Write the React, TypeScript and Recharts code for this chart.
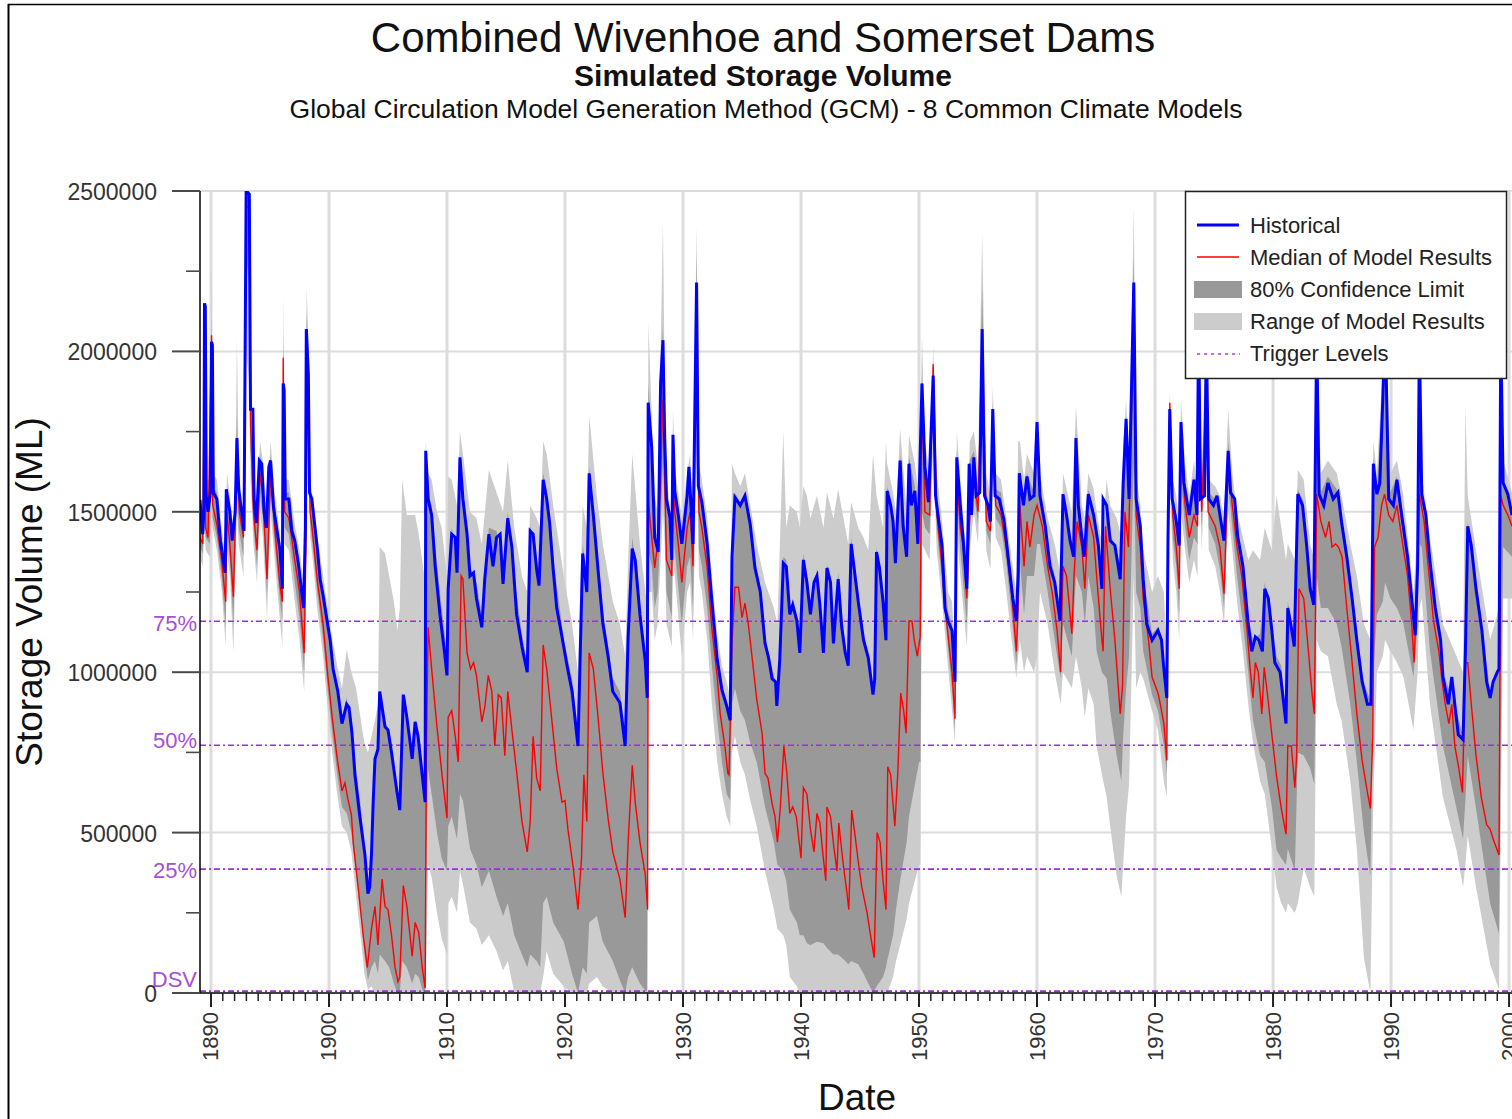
import React from 'react';
import { ComposedChart, Line, Area, XAxis, YAxis, CartesianGrid, ReferenceLine } from 'recharts';

const FONT = '"Liberation Sans", Arial, Helvetica, sans-serif';

// Historical combined storage volume: [year, ML]
const historical: [number, number][] = [
  [1889.07,1537000],[1889.3,1430000],[1889.4,1500000],[1889.45,2150000],[1889.52,2140000],[1889.6,1550000],[1889.75,1500000],[1889.95,1560000],[1890.05,2030000],[1890.12,2020000],
  [1890.2,1560000],[1890.5,1540000],[1890.8,1410000],[1891.2,1310000],[1891.3,1570000],[1891.6,1500000],[1891.8,1410000],[1892.05,1500000],[1892.2,1730000],[1892.35,1570000],
  [1892.6,1500000],[1892.8,1440000],[1892.98,2500000],[1893.25,2490000],[1893.35,1820000],[1893.55,1820000],[1893.65,1540000],[1893.85,1465000],[1894.1,1660000],[1894.3,1650000],
  [1894.5,1500000],[1894.7,1450000],[1894.9,1640000],[1895.05,1660000],[1895.3,1515000],[1895.6,1440000],[1895.85,1380000],[1896.05,1260000],[1896.12,1900000],[1896.2,1880000],
  [1896.3,1540000],[1896.6,1540000],[1896.85,1440000],[1897.1,1410000],[1897.4,1340000],[1897.85,1200000],[1898.0,1450000],[1898.08,2070000],[1898.25,1930000],[1898.35,1560000],
  [1898.55,1540000],[1898.65,1505000],[1899.0,1390000],[1899.25,1290000],[1899.5,1240000],[1899.8,1170000],[1900.1,1100000],[1900.35,1010000],[1900.75,940000],[1901.1,840000],
  [1901.5,900000],[1901.7,890000],[1901.95,810000],[1902.2,680000],[1902.6,555000],[1903.05,430000],[1903.3,310000],[1903.45,330000],[1903.6,430000],[1903.75,600000],
  [1903.9,730000],[1904.15,760000],[1904.3,940000],[1904.75,830000],[1905.0,820000],[1905.3,750000],[1905.75,630000],[1906.0,570000],[1906.3,930000],[1906.6,860000],
  [1907.05,730000],[1907.3,845000],[1907.55,800000],[1907.9,680000],[1908.15,595000],[1908.2,1690000],[1908.4,1540000],[1908.7,1490000],[1909.0,1330000],[1909.4,1180000],
  [1909.8,1060000],[1910.0,990000],[1910.1,1260000],[1910.4,1430000],[1910.7,1420000],[1910.85,1310000],[1911.1,1670000],[1911.35,1540000],[1911.7,1430000],[1911.95,1300000],
  [1912.25,1310000],[1912.5,1230000],[1912.95,1140000],[1913.2,1290000],[1913.55,1430000],[1913.9,1330000],[1914.2,1420000],[1914.5,1430000],[1914.75,1275000],[1915.15,1480000],
  [1915.5,1390000],[1915.9,1180000],[1916.35,1080000],[1916.8,1000000],[1917.05,1440000],[1917.3,1430000],[1917.6,1320000],[1917.8,1270000],[1918.15,1600000],[1918.45,1540000],
  [1918.7,1465000],[1919.0,1320000],[1919.3,1200000],[1919.75,1110000],[1920.15,1025000],[1920.6,940000],[1921.1,770000],[1921.5,1370000],[1921.85,1250000],[1922.05,1620000],
  [1922.4,1490000],[1922.8,1320000],[1923.2,1155000],[1923.65,1050000],[1924.05,940000],[1924.65,905000],[1925.1,770000],[1925.35,1110000],[1925.7,1385000],[1925.95,1350000],
  [1926.35,1180000],[1926.8,1035000],[1926.97,920000],[1927.05,1840000],[1927.35,1700000],[1927.6,1420000],[1927.9,1375000],[1928.1,1900000],[1928.3,2035000],[1928.45,1730000],
  [1928.6,1540000],[1928.9,1480000],[1929.05,1350000],[1929.15,1740000],[1929.3,1565000],[1929.6,1490000],[1929.9,1400000],[1930.35,1550000],[1930.5,1640000],[1930.85,1400000],
  [1931.15,2215000],[1931.3,1580000],[1931.6,1530000],[1932.05,1400000],[1932.45,1220000],[1932.9,1040000],[1933.3,945000],[1933.7,895000],[1934.0,850000],[1934.15,1360000],
  [1934.4,1545000],[1934.85,1520000],[1935.25,1550000],[1935.7,1460000],[1936.1,1325000],[1936.55,1250000],[1936.95,1090000],[1937.25,1045000],[1937.55,980000],[1937.85,970000],
  [1937.95,895000],[1938.2,1040000],[1938.5,1340000],[1938.75,1330000],[1939.05,1180000],[1939.3,1210000],[1939.65,1160000],[1939.9,1060000],[1940.2,1350000],[1940.5,1280000],
  [1940.8,1180000],[1941.1,1280000],[1941.35,1300000],[1941.6,1210000],[1941.9,1060000],[1942.2,1325000],[1942.5,1280000],[1942.75,1090000],[1943.15,1290000],[1943.45,1140000],
  [1943.75,1060000],[1944.0,1020000],[1944.25,1400000],[1944.45,1340000],[1944.85,1220000],[1945.3,1100000],[1945.7,1045000],[1946.1,930000],[1946.25,980000],[1946.4,1375000],
  [1946.65,1325000],[1946.95,1220000],[1947.2,1100000],[1947.3,1565000],[1947.6,1520000],[1947.8,1470000],[1948.0,1340000],[1948.4,1660000],[1948.65,1455000],[1948.95,1360000],
  [1949.15,1650000],[1949.35,1520000],[1949.65,1565000],[1949.9,1400000],[1950.1,1680000],[1950.25,1900000],[1950.5,1640000],[1950.8,1530000],[1951.2,1925000],[1951.4,1550000],
  [1951.6,1490000],[1951.95,1395000],[1952.2,1200000],[1952.45,1160000],[1952.8,1130000],[1953.05,970000],[1953.2,1670000],[1953.5,1520000],[1953.75,1410000],[1954.05,1260000],
  [1954.25,1650000],[1954.45,1490000],[1954.65,1670000],[1954.85,1550000],[1955.15,1560000],[1955.35,2070000],[1955.55,1550000],[1955.85,1520000],[1956.05,1470000],[1956.25,1820000],
  [1956.45,1550000],[1956.8,1540000],[1957.2,1475000],[1957.55,1360000],[1957.95,1230000],[1958.25,1160000],[1958.4,1310000],[1958.5,1620000],[1958.85,1520000],[1959.15,1610000],
  [1959.4,1540000],[1959.75,1550000],[1960.0,1780000],[1960.25,1550000],[1960.7,1455000],[1961.1,1330000],[1961.5,1280000],[1961.95,1160000],[1962.2,1555000],[1962.5,1490000],
  [1962.8,1410000],[1963.1,1360000],[1963.3,1730000],[1963.5,1520000],[1963.8,1420000],[1964.0,1360000],[1964.35,1555000],[1964.8,1490000],[1965.2,1395000],[1965.5,1260000],
  [1965.6,1540000],[1965.9,1520000],[1966.2,1410000],[1966.6,1395000],[1967.05,1290000],[1967.3,1590000],[1967.55,1790000],[1967.8,1540000],[1968.2,2215000],[1968.4,1540000],
  [1968.75,1455000],[1969.0,1290000],[1969.3,1150000],[1969.75,1100000],[1970.25,1130000],[1970.55,1100000],[1970.7,1030000],[1971.0,920000],[1971.1,1420000],[1971.25,1820000],
  [1971.45,1540000],[1971.8,1470000],[1972.05,1395000],[1972.2,1780000],[1972.45,1590000],[1972.9,1490000],[1973.3,1600000],[1973.55,1490000],[1973.7,2100000],[1973.85,1540000],
  [1974.2,1550000],[1974.35,2050000],[1974.55,1540000],[1974.95,1520000],[1975.25,1550000],[1975.5,1490000],[1975.85,1410000],[1976.2,1690000],[1976.4,1560000],[1976.75,1540000],
  [1977.0,1425000],[1977.45,1330000],[1977.9,1150000],[1978.2,1065000],[1978.5,1110000],[1978.8,1100000],[1979.1,1065000],[1979.3,1260000],[1979.6,1230000],[1979.9,1130000],
  [1980.15,1030000],[1980.6,1000000],[1980.85,920000],[1981.1,840000],[1981.25,1200000],[1981.5,1150000],[1981.8,1080000],[1982.1,1555000],[1982.5,1520000],[1982.85,1395000],
  [1983.15,1260000],[1983.45,1210000],[1983.7,2050000],[1983.9,1555000],[1984.3,1520000],[1984.65,1590000],[1985.1,1540000],[1985.5,1560000],[1985.8,1470000],[1986.25,1360000],
  [1986.7,1230000],[1987.1,1100000],[1987.55,970000],[1988.0,900000],[1988.3,900000],[1988.5,1650000],[1988.8,1555000],[1989.05,1590000],[1989.3,1850000],[1989.5,2100000],
  [1989.8,1540000],[1990.2,1520000],[1990.5,1600000],[1990.9,1490000],[1991.4,1360000],[1991.75,1230000],[1992.05,1115000],[1992.25,1330000],[1992.4,2050000],[1992.6,1555000],
  [1992.95,1490000],[1993.3,1345000],[1993.75,1200000],[1994.2,1100000],[1994.4,985000],[1994.85,900000],[1995.15,985000],[1995.4,900000],[1995.7,805000],[1996.1,790000],
  [1996.3,1065000],[1996.5,1455000],[1996.8,1395000],[1997.2,1260000],[1997.7,1130000],[1998.1,970000],[1998.4,920000],[1998.65,970000],[1999.0,1000000],[1999.15,1010000],
  [1999.3,2050000],[1999.5,1590000],[1999.9,1555000],[2000.25,1490000],
];

// Median of model results: [year, ML]
const medianResults: [number, number][] = [
  [1889.07,1420000],[1889.3,1400000],[1889.45,2000000],[1889.55,1450000],[1889.75,1420000],[1890.05,2050000],[1890.15,1520000],[1890.5,1460000],[1890.9,1350000],[1891.25,1220000],
  [1891.35,1500000],[1891.6,1400000],[1891.9,1235000],[1892.05,1450000],[1892.2,1700000],[1892.4,1500000],[1892.75,1420000],[1892.98,2450000],[1893.25,2450000],[1893.35,1780000],
  [1893.6,1500000],[1893.9,1380000],[1894.15,1620000],[1894.4,1550000],[1894.75,1290000],[1895.05,1620000],[1895.4,1450000],[1895.85,1270000],[1896.05,1220000],[1896.12,1980000],
  [1896.25,1500000],[1896.6,1480000],[1897.1,1350000],[1897.5,1250000],[1897.9,1060000],[1898.05,1400000],[1898.1,2050000],[1898.3,1800000],[1898.4,1500000],[1898.6,1440000],
  [1899.0,1290000],[1899.5,1150000],[1899.9,990000],[1900.3,850000],[1900.7,730000],[1901.1,630000],[1901.35,655000],[1901.6,605000],[1901.9,555000],[1902.05,470000],
  [1902.5,320000],[1902.9,180000],[1903.25,80000],[1903.6,200000],[1903.9,270000],[1904.15,150000],[1904.5,355000],[1904.75,270000],[1905.0,260000],[1905.3,180000],
  [1905.6,80000],[1905.85,35000],[1906.0,50000],[1906.3,335000],[1906.6,270000],[1907.05,115000],[1907.3,220000],[1907.6,190000],[1907.9,80000],[1908.15,15000],
  [1908.25,730000],[1908.4,1140000],[1908.7,1010000],[1909.15,830000],[1909.55,690000],[1910.0,545000],[1910.1,860000],[1910.4,880000],[1910.7,800000],[1910.95,720000],
  [1911.2,1300000],[1911.35,1290000],[1911.7,1060000],[1912.0,1010000],[1912.25,1030000],[1912.5,990000],[1912.95,845000],[1913.2,890000],[1913.5,990000],[1913.8,940000],
  [1914.05,770000],[1914.35,930000],[1914.6,920000],[1914.9,740000],[1915.15,940000],[1915.5,820000],[1915.9,690000],[1916.35,535000],[1916.8,440000],[1917.05,535000],
  [1917.3,800000],[1917.6,670000],[1917.9,630000],[1918.15,1085000],[1918.45,1010000],[1918.9,845000],[1919.3,700000],[1919.75,595000],[1920.0,600000],[1920.25,510000],
  [1920.7,390000],[1921.1,260000],[1921.4,420000],[1921.6,680000],[1921.85,535000],[1922.05,1060000],[1922.4,1010000],[1922.8,860000],[1923.2,690000],[1923.65,545000],
  [1924.05,440000],[1924.65,355000],[1925.1,235000],[1925.35,470000],[1925.7,710000],[1925.95,595000],[1926.35,470000],[1926.8,370000],[1927.0,260000],[1927.07,1530000],
  [1927.35,1420000],[1927.6,1325000],[1927.85,1400000],[1928.1,1600000],[1928.3,1850000],[1928.45,1600000],[1928.6,1350000],[1929.05,1300000],[1929.15,1600000],[1929.3,1500000],
  [1929.6,1400000],[1929.9,1280000],[1930.35,1450000],[1930.6,1500000],[1930.85,1330000],[1931.15,2100000],[1931.35,1500000],[1931.6,1450000],[1932.05,1325000],[1932.45,1135000],
  [1932.9,985000],[1933.15,870000],[1933.55,770000],[1933.8,685000],[1933.9,680000],[1934.15,1090000],[1934.4,1265000],[1934.7,1265000],[1935.0,1170000],[1935.25,1215000],
  [1935.55,1145000],[1935.95,1015000],[1936.25,915000],[1936.7,810000],[1936.95,685000],[1937.2,670000],[1937.55,590000],[1937.8,550000],[1938.0,470000],[1938.25,580000],
  [1938.55,770000],[1938.8,685000],[1939.05,560000],[1939.3,580000],[1939.6,550000],[1940.0,420000],[1940.2,640000],[1940.5,620000],[1940.8,510000],[1941.1,440000],
  [1941.35,560000],[1941.6,530000],[1941.85,435000],[1942.1,350000],[1942.2,580000],[1942.5,550000],[1942.8,450000],[1943.05,380000],[1943.2,530000],[1943.55,410000],
  [1943.9,310000],[1944.05,260000],[1944.3,570000],[1944.55,500000],[1944.85,410000],[1945.15,330000],[1945.6,250000],[1945.85,190000],[1946.2,110000],[1946.45,500000],
  [1946.7,470000],[1946.95,350000],[1947.2,260000],[1947.35,705000],[1947.6,680000],[1947.95,520000],[1948.2,685000],[1948.45,935000],[1948.7,880000],[1948.9,810000],
  [1949.15,1160000],[1949.4,1160000],[1949.6,1100000],[1949.85,1050000],[1950.1,1110000],[1950.25,1900000],[1950.5,1500000],[1950.9,1490000],[1951.2,1960000],[1951.5,1500000],
  [1951.95,1330000],[1952.2,1200000],[1952.45,1120000],[1952.8,1000000],[1953.05,855000],[1953.2,1620000],[1953.5,1450000],[1953.75,1390000],[1954.05,1230000],[1954.3,1490000],
  [1954.65,1620000],[1955.0,1500000],[1955.35,2040000],[1955.7,1470000],[1956.05,1440000],[1956.25,1780000],[1956.5,1520000],[1956.95,1490000],[1957.4,1390000],[1957.85,1245000],
  [1958.25,1065000],[1958.4,1200000],[1958.55,1520000],[1958.9,1330000],[1959.15,1470000],[1959.4,1390000],[1959.75,1490000],[1960.0,1520000],[1960.45,1455000],[1960.9,1330000],
  [1961.3,1245000],[1961.7,1130000],[1962.0,1000000],[1962.2,1330000],[1962.5,1300000],[1962.95,1120000],[1963.15,1310000],[1963.4,1470000],[1963.8,1390000],[1964.05,1260000],
  [1964.35,1490000],[1964.8,1420000],[1965.05,1300000],[1965.5,1100000],[1965.6,1065000],[1965.8,1455000],[1966.2,1260000],[1966.6,1100000],[1967.05,870000],[1967.25,960000],
  [1967.45,1500000],[1967.75,1390000],[1968.2,2120000],[1968.4,1490000],[1968.75,1390000],[1969.0,1230000],[1969.45,1100000],[1969.75,985000],[1970.25,935000],[1970.45,900000],
  [1970.75,840000],[1971.0,725000],[1971.1,1390000],[1971.25,1840000],[1971.5,1490000],[1971.8,1390000],[1972.05,1260000],[1972.2,1680000],[1972.55,1520000],[1972.9,1420000],
  [1973.3,1490000],[1973.6,1455000],[1973.7,1950000],[1973.95,1500000],[1974.35,1900000],[1974.5,1500000],[1975.1,1455000],[1975.5,1390000],[1975.85,1245000],[1976.2,1650000],
  [1976.55,1520000],[1976.95,1390000],[1977.35,1300000],[1977.8,1130000],[1978.05,1015000],[1978.3,920000],[1978.5,1030000],[1978.75,1000000],[1979.05,870000],[1979.25,1015000],
  [1979.5,940000],[1979.9,805000],[1980.3,675000],[1980.7,575000],[1981.1,495000],[1981.25,770000],[1981.55,770000],[1981.85,640000],[1982.0,740000],[1982.2,1260000],
  [1982.6,1230000],[1983.0,1065000],[1983.3,935000],[1983.5,870000],[1983.7,1555000],[1984.05,1470000],[1984.45,1420000],[1984.75,1470000],[1985.0,1390000],[1985.3,1400000],
  [1985.55,1390000],[1985.85,1360000],[1986.25,1200000],[1986.7,1030000],[1987.1,870000],[1987.55,725000],[1988.0,625000],[1988.25,575000],[1988.45,800000],[1988.6,1390000],
  [1988.9,1420000],[1989.2,1520000],[1989.45,1555000],[1989.8,1490000],[1990.15,1470000],[1990.5,1520000],[1990.9,1420000],[1991.4,1300000],[1991.75,1150000],[1991.95,1030000],
  [1992.2,1260000],[1992.4,1555000],[1992.8,1470000],[1993.15,1330000],[1993.6,1160000],[1994.05,1065000],[1994.35,965000],[1994.6,900000],[1994.9,840000],[1995.15,900000],
  [1995.4,770000],[1995.7,710000],[1996.05,625000],[1996.3,1030000],[1996.5,1030000],[1996.8,900000],[1997.2,740000],[1997.65,610000],[1998.1,525000],[1998.4,510000],
  [1998.65,480000],[1999.0,445000],[1999.15,430000],[1999.3,1550000],[1999.5,1520000],[1999.9,1490000],[2000.25,1455000],
];

// 80% confidence limit: [year, 10th percentile ML, 90th percentile ML]
const confidence80: [number, number, number][] = [
  [1889.07,1390000,1540000],[1889.3,1370000,1450000],[1889.45,1550000,2150000],[1889.55,1420000,1560000],[1889.9,1400000,1560000],[1890.05,1700000,2100000],[1890.15,1480000,1580000],[1890.5,1420000,1560000],[1890.9,1300000,1420000],[1891.25,1140000,1330000],
  [1891.35,1440000,1580000],[1891.6,1350000,1510000],[1891.9,1150000,1420000],[1892.05,1380000,1520000],[1892.2,1620000,1800000],[1892.35,1450000,1580000],[1892.75,1360000,1450000],[1892.98,2300000,2500000],[1893.25,2200000,2500000],[1893.35,1700000,1850000],
  [1893.6,1450000,1580000],[1893.9,1330000,1480000],[1894.15,1560000,1680000],[1894.4,1480000,1620000],[1894.75,1240000,1460000],[1895.05,1560000,1680000],[1895.4,1400000,1520000],[1895.85,1220000,1400000],[1896.05,1160000,1280000],[1896.12,1800000,2050000],
  [1896.25,1450000,1560000],[1896.6,1430000,1560000],[1897.1,1280000,1420000],[1897.5,1170000,1340000],[1897.9,1000000,1220000],[1898.05,1350000,1470000],[1898.1,1950000,2120000],[1898.3,1700000,1950000],[1898.4,1460000,1570000],[1898.6,1400000,1520000],
  [1899.0,1250000,1400000],
  [1899.5,1100000,1250000],[1899.9,940000,1140000],[1900.3,800000,1020000],[1900.7,680000,950000],[1901.1,580000,860000],[1901.5,560000,920000],[1901.9,500000,830000],[1902.3,370000,700000],[1902.7,240000,580000],[1903.0,120000,450000],
  [1903.3,40000,330000],[1903.6,80000,450000],[1903.9,100000,740000],[1904.15,60000,770000],[1904.3,120000,940000],[1904.75,100000,840000],[1905.1,80000,820000],[1905.5,30000,720000],[1905.8,0,630000],[1906.0,0,580000],
  [1906.2,100000,930000],[1906.6,80000,870000],[1907.05,30000,740000],[1907.3,60000,850000],[1907.6,50000,810000],[1908.0,0,660000],[1908.15,0,600000],
  [1908.2,300000,1690000],[1908.4,700000,1560000],[1908.7,620000,1520000],[1909.15,500000,1340000],[1909.55,420000,1200000],[1910.0,380000,1060000],[1910.1,520000,1300000],[1910.4,550000,1450000],[1910.85,480000,1360000],[1911.1,620000,1670000],
  [1911.35,600000,1560000],[1911.95,450000,1330000],[1912.5,400000,1280000],[1912.95,330000,1180000],[1913.55,380000,1450000],[1914.2,300000,1440000],[1914.75,240000,1320000],[1915.15,280000,1500000],[1915.7,180000,1300000],[1916.35,120000,1120000],
  [1916.8,80000,1030000],[1917.05,120000,1460000],[1917.6,100000,1350000],[1917.9,80000,1300000],[1918.15,280000,1620000],[1918.45,300000,1570000],[1919.0,220000,1360000],[1919.9,160000,1100000],[1920.6,60000,980000],[1921.1,0,820000],
  [1921.5,80000,1400000],[1921.85,60000,1300000],[1922.05,220000,1640000],[1922.7,240000,1360000],[1923.2,160000,1200000],[1924.05,100000,980000],[1924.65,40000,940000],[1925.1,0,820000],[1925.35,50000,1150000],[1925.7,80000,1420000],
  [1926.35,30000,1220000],[1926.97,0,960000],
  [1927.07,1380000,1900000],[1927.35,1330000,1720000],[1927.6,1200000,1450000],[1927.85,1250000,1420000],[1928.1,1450000,1920000],[1928.3,1650000,2080000],[1928.45,1500000,1760000],[1928.6,1250000,1560000],[1929.05,1170000,1380000],[1929.15,1450000,1760000],
  [1929.3,1380000,1580000],[1929.9,1150000,1420000],[1930.35,1330000,1570000],[1930.6,1360000,1620000],[1930.85,1200000,1420000],[1931.15,1900000,2300000],[1931.35,1380000,1600000],[1931.6,1330000,1550000],[1932.05,1200000,1420000],[1932.45,1020000,1240000],
  [1932.9,850000,1060000],[1933.3,720000,960000],[1933.7,620000,910000],[1934.0,600000,870000],
  [1934.15,900000,1380000],[1934.4,950000,1560000],[1934.85,880000,1530000],[1935.25,850000,1560000],[1935.7,780000,1480000],[1936.25,720000,1300000],[1936.95,580000,1110000],[1937.7,470000,990000],[1938.0,400000,920000],[1938.5,380000,1360000],
  [1938.75,350000,1350000],[1939.05,260000,1200000],[1939.65,220000,1180000],[1939.9,180000,1080000],[1940.2,180000,1370000],[1940.5,155000,1300000],[1940.8,150000,1200000],[1941.35,160000,1320000],[1941.9,155000,1080000],[1942.2,140000,1340000],
  [1942.75,120000,1110000],[1943.15,120000,1310000],[1943.75,100000,1080000],[1944.0,90000,1040000],[1944.25,100000,1420000],[1944.85,90000,1240000],[1945.3,60000,1120000],[1945.7,30000,1060000],[1946.1,0,950000],[1946.4,20000,1390000],
  [1946.95,50000,1240000],[1947.2,80000,1120000],[1947.3,100000,1580000],[1947.8,180000,1490000],[1948.05,260000,1360000],[1948.4,350000,1680000],[1948.95,470000,1380000],[1949.15,550000,1670000],[1949.65,650000,1580000],[1950.0,720000,1420000],
  [1950.12,720000,1700000],
  [1950.25,1500000,1920000],[1950.5,1450000,1660000],[1950.9,1430000,1560000],[1951.2,1850000,1950000],[1951.5,1450000,1570000],[1951.95,1280000,1420000],[1952.45,1080000,1190000],[1952.8,940000,1150000],[1953.05,820000,990000],[1953.2,1550000,1690000],
  [1953.5,1380000,1540000],[1954.05,1150000,1280000],[1954.3,1450000,1660000],[1954.65,1560000,1690000],[1955.0,1460000,1580000],[1955.35,1950000,2200000],[1955.7,1440000,1560000],[1956.05,1400000,1500000],[1956.25,1740000,1840000],[1956.5,1480000,1570000],
  [1956.95,1450000,1560000],[1957.4,1340000,1420000],[1957.85,1180000,1270000],[1958.25,1020000,1180000],[1958.4,1120000,1350000],[1958.55,1350000,1630000],[1958.9,1180000,1530000],[1959.15,1300000,1620000],[1959.75,1300000,1560000],[1960.0,1400000,1780000],
  [1960.25,1400000,1570000],[1960.9,1250000,1400000],[1961.5,1100000,1300000],[1962.0,980000,1180000],[1962.2,1150000,1560000],[1962.95,1050000,1400000],[1963.3,1300000,1750000],[1963.8,1250000,1440000],[1964.05,1150000,1380000],[1964.35,1300000,1570000],
  [1964.8,1200000,1510000],[1965.05,1065000,1420000],[1965.5,1000000,1280000],[1965.9,980000,1530000],[1966.2,880000,1430000],[1966.75,740000,1380000],[1967.15,660000,1300000],[1967.3,800000,1600000],[1967.55,950000,1800000],[1967.8,1050000,1560000],
  [1968.2,1650000,2300000],[1968.4,1250000,1560000],[1968.75,1200000,1470000],[1969.0,1065000,1300000],[1969.75,930000,1120000],[1970.25,880000,1140000],[1970.75,770000,1050000],[1971.0,680000,940000],[1971.1,1250000,1440000],[1971.25,1750000,1840000],
  [1971.5,1420000,1560000],[1971.8,1330000,1490000],[1972.05,1180000,1410000],[1972.2,1600000,1790000],[1972.55,1450000,1600000],[1972.9,1350000,1500000],[1973.3,1420000,1610000],[1973.6,1400000,1500000],[1973.7,1900000,2120000],[1973.95,1450000,1560000],
  [1974.35,1850000,2070000],[1974.55,1450000,1560000],[1975.1,1400000,1540000],[1975.5,1320000,1500000],[1975.85,1200000,1420000],
  [1976.2,1580000,1720000],[1976.55,1450000,1570000],[1976.95,1300000,1440000],[1977.45,1150000,1350000],[1977.9,1000000,1170000],[1978.3,850000,1100000],[1978.9,740000,1120000],[1979.3,720000,1280000],[1979.9,580000,1150000],[1980.3,445000,1050000],
  [1980.7,420000,1020000],[1981.1,400000,870000],[1981.25,450000,1220000],[1981.85,380000,1100000],[1982.1,750000,1570000],[1982.6,740000,1530000],[1983.15,700000,1280000],[1983.5,650000,1230000],[1983.7,1300000,2000000],[1984.05,1200000,1560000],
  [1984.65,1200000,1610000],[1985.4,1150000,1570000],[1985.8,1080000,1490000],[1986.55,900000,1270000],[1987.1,720000,1120000],[1987.7,500000,970000],[1988.25,365000,910000],[1988.5,1000000,1670000],[1988.8,1180000,1570000],[1989.3,1220000,1870000],
  [1989.5,1280000,2050000],[1989.95,1230000,1560000],[1990.5,1200000,1610000],[1991.05,1150000,1480000],[1991.9,985000,1140000],[1992.25,1150000,1350000],[1992.4,1400000,2000000],[1992.6,1390000,1570000],[1993.3,1065000,1360000],[1994.4,770000,1000000],
  [1995.55,575000,880000],[1996.1,480000,800000],[1996.3,600000,1080000],[1996.5,740000,1470000],[1997.2,575000,1280000],[1998.4,280000,940000],[1999.15,185000,1020000],[1999.3,800000,2000000],[1999.5,1390000,1600000],[2000.25,1360000,1500000],
];

// Range of model results: [year, minimum ML, maximum ML]
const modelRange: [number, number, number][] = [
  [1889.07,1360000,1560000],[1889.3,1330000,1500000],[1889.45,1450000,2170000],[1889.55,1380000,1600000],[1889.9,1360000,1600000],[1890.05,1500000,2270000],[1890.15,1450000,1620000],[1890.5,1380000,1600000],[1890.9,1260000,1450000],[1891.25,1080000,1360000],
  [1891.35,1380000,1620000],[1891.6,1300000,1550000],[1891.9,1060000,1450000],[1892.05,1300000,1550000],[1892.2,1500000,2040000],[1892.35,1400000,1620000],[1892.75,1300000,1500000],[1892.98,2000000,2500000],[1893.25,1900000,2500000],[1893.35,1600000,1950000],
  [1893.6,1400000,1620000],[1893.9,1280000,1520000],[1894.15,1500000,1720000],[1894.4,1420000,1660000],[1894.75,1170000,1500000],[1895.05,1500000,1720000],[1895.4,1350000,1560000],[1895.85,1160000,1430000],[1896.05,1080000,1320000],[1896.12,1600000,2180000],
  [1896.25,1400000,1600000],[1896.6,1380000,1600000],[1897.1,1220000,1460000],[1897.5,1100000,1380000],[1897.9,940000,1260000],[1898.05,1250000,1500000],[1898.1,1800000,2200000],[1898.3,1600000,2000000],[1898.4,1420000,1600000],[1898.6,1360000,1550000],
  [1899.0,1200000,1430000],
  [1899.5,1050000,1300000],[1899.9,880000,1200000],[1900.3,740000,1100000],[1900.7,620000,1020000],[1901.1,520000,950000],[1901.5,500000,1070000],[1901.9,440000,1000000],[1902.3,300000,950000],[1902.7,170000,850000],[1903.0,60000,780000],
  [1903.3,10000,750000],[1903.6,20000,800000],[1903.9,0,850000],[1904.15,0,900000],[1904.3,0,1390000],[1904.75,0,1370000],[1905.1,0,1300000],[1905.5,0,1220000],[1905.8,0,1130000],[1906.0,0,1200000],
  [1906.2,0,1600000],[1906.6,0,1490000],[1907.05,0,1490000],[1907.3,0,1490000],[1907.6,0,1430000],[1908.0,0,1320000],[1908.15,0,1280000],
  [1908.2,0,1720000],[1908.4,400000,1620000],[1908.7,360000,1600000],[1909.15,250000,1500000],[1909.55,170000,1450000],[1910.0,120000,1300000],[1910.1,280000,1610000],[1910.4,300000,1600000],[1910.85,250000,1520000],[1911.1,380000,1750000],
  [1911.35,340000,1680000],[1911.95,220000,1500000],[1912.5,200000,1480000],[1912.95,150000,1400000],[1913.55,180000,1630000],[1914.2,130000,1560000],[1914.75,70000,1500000],[1915.15,100000,1660000],[1915.7,0,1450000],[1916.35,0,1300000],
  [1916.8,0,1250000],[1917.05,0,1520000],[1917.6,0,1480000],[1917.9,0,1450000],[1918.15,50000,1720000],[1918.45,130000,1680000],[1919.0,60000,1520000],[1919.9,20000,1300000],[1920.6,0,1150000],[1921.1,0,1000000],
  [1921.5,0,1520000],[1921.85,0,1450000],[1922.05,30000,1800000],[1922.7,50000,1550000],[1923.2,20000,1400000],[1924.05,0,1220000],[1924.65,0,1150000],[1925.1,0,1050000],[1925.35,0,1350000],[1925.7,0,1680000],
  [1926.35,0,1400000],[1926.97,0,1200000],
  [1927.07,1250000,2090000],[1927.35,1250000,1800000],[1927.6,1100000,1550000],[1927.85,1150000,1500000],[1928.1,1350000,2000000],[1928.3,1500000,2400000],[1928.45,1400000,1900000],[1928.6,1150000,1620000],[1929.05,1080000,1450000],[1929.15,1350000,1820000],
  [1929.3,1300000,1640000],[1929.9,1050000,1480000],[1930.35,1250000,1620000],[1930.6,1280000,1680000],[1930.85,1100000,1480000],[1931.15,1700000,2390000],[1931.35,1300000,1650000],[1931.6,1250000,1600000],[1932.05,1100000,1480000],[1932.45,900000,1300000],
  [1932.9,720000,1120000],[1933.3,620000,1020000],[1933.7,550000,970000],[1934.0,520000,920000],
  [1934.15,750000,1650000],[1934.4,800000,1620000],[1934.85,720000,1580000],[1935.25,680000,1620000],[1935.7,600000,1520000],[1936.25,520000,1400000],[1936.95,380000,1280000],[1937.7,260000,1200000],[1938.0,200000,1150000],[1938.5,180000,1750000],
  [1938.75,150000,1450000],[1939.05,50000,1520000],[1939.65,20000,1500000],[1939.9,0,1450000],[1940.2,0,1580000],[1940.5,0,1550000],[1940.8,0,1480000],[1941.35,0,1550000],[1941.9,0,1450000],[1942.2,0,1560000],
  [1942.75,0,1480000],[1943.15,0,1570000],[1943.75,0,1450000],[1944.0,0,1400000],[1944.25,0,1530000],[1944.85,0,1450000],[1945.3,0,1420000],[1945.7,0,1380000],[1946.1,0,1680000],[1946.4,0,1550000],
  [1946.95,0,1450000],[1947.2,0,1720000],[1947.3,0,1650000],[1947.8,50000,1560000],[1948.05,100000,1500000],[1948.4,150000,1760000],[1948.95,230000,1500000],[1949.15,280000,1740000],[1949.65,350000,1650000],[1950.0,400000,1550000],
  [1950.12,400000,1750000],
  [1950.25,1400000,2050000],[1950.5,1380000,1720000],[1950.9,1350000,1620000],[1951.2,1700000,2020000],[1951.5,1380000,1620000],[1951.95,1220000,1470000],[1952.45,1020000,1250000],[1952.8,880000,1220000],[1953.05,780000,1050000],[1953.2,1450000,1750000],
  [1953.5,1300000,1600000],[1954.05,1080000,1350000],[1954.3,1380000,1720000],[1954.65,1500000,1750000],[1955.0,1400000,1640000],[1955.35,1850000,2370000],[1955.7,1380000,1620000],[1956.05,1320000,1550000],[1956.25,1650000,1890000],[1956.5,1420000,1620000],
  [1956.95,1380000,1600000],[1957.4,1250000,1480000],[1957.85,1100000,1350000],[1958.25,980000,1250000],[1958.4,1050000,1720000],[1958.55,1100000,1720000],[1958.9,1000000,1600000],[1959.15,1050000,1680000],[1959.75,1000000,1620000],[1960.0,1050000,1800000],
  [1960.25,1250000,1620000],[1960.9,1150000,1480000],[1961.5,1000000,1400000],[1962.0,900000,1300000],[1962.2,1000000,1620000],[1962.95,950000,1500000],[1963.3,1050000,1830000],[1963.8,950000,1520000],[1964.05,860000,1480000],[1964.35,950000,1620000],
  [1964.8,900000,1570000],[1965.05,770000,1500000],[1965.5,680000,1400000],[1965.9,610000,1600000],[1966.2,520000,1520000],[1966.75,365000,1480000],[1967.15,300000,1420000],[1967.3,400000,1700000],[1967.55,550000,1850000],[1967.8,650000,1620000],
  [1968.2,1300000,2450000],[1968.4,950000,1620000],[1968.75,1000000,1520000],[1969.0,980000,1380000],[1969.75,880000,1250000],[1970.25,820000,1300000],[1970.75,660000,1250000],[1971.0,610000,1050000],[1971.1,1100000,1500000],[1971.25,1600000,1870000],
  [1971.5,1350000,1600000],[1971.8,1250000,1550000],[1972.05,1100000,1470000],[1972.2,1500000,1850000],[1972.55,1380000,1650000],[1972.9,1280000,1550000],[1973.3,1350000,1660000],[1973.6,1300000,1560000],[1973.7,1800000,2200000],[1973.95,1380000,1600000],
  [1974.35,1750000,2150000],[1974.55,1380000,1600000],[1975.1,1330000,1580000],[1975.5,1250000,1550000],[1975.85,1150000,1480000],
  [1976.2,1500000,1820000],[1976.55,1380000,1620000],[1976.95,1220000,1500000],[1977.45,1065000,1420000],[1977.9,900000,1350000],[1978.3,780000,1380000],[1978.9,660000,1350000],[1979.3,620000,1450000],[1979.9,450000,1380000],[1980.3,330000,1550000],
  [1980.7,280000,1450000],[1981.1,250000,1350000],[1981.25,280000,1400000],[1981.85,250000,1350000],[1982.1,280000,1630000],[1982.6,390000,1600000],[1983.15,330000,1400000],[1983.5,300000,1350000],[1983.7,1100000,2100000],[1984.05,1065000,1620000],
  [1984.65,1050000,1660000],[1985.4,900000,1620000],[1985.8,850000,1550000],[1986.55,660000,1400000],[1987.1,450000,1300000],[1987.7,110000,1150000],[1988.25,0,1100000],[1988.5,600000,1720000],[1988.8,1000000,1620000],[1989.3,1050000,1950000],
  [1989.5,1100000,2150000],[1989.95,1065000,1620000],[1990.5,1030000,1660000],[1991.05,985000,1550000],[1991.9,820000,1250000],[1992.25,1000000,1450000],[1992.4,1200000,2100000],[1992.6,1230000,1620000],[1993.3,900000,1420000],[1994.4,610000,1150000],
  [1995.55,445000,1050000],[1996.1,330000,1000000],[1996.3,400000,1830000],[1996.5,490000,1550000],[1997.2,330000,1380000],[1998.4,90000,1100000],[1999.15,10000,1200000],[1999.3,500000,2100000],[1999.5,1230000,1660000],[2000.25,1230000,1560000],
];

// Trigger levels (ML)
const triggerLevels = [
  { label: '75%', volume: 1158750 },
  { label: '50%', volume: 772500 },
  { label: '25%', volume: 386250 },
  { label: 'DSV', volume: 6000 },
];
const triggerLabelShift: Record<string, number> = { '75%': 2, '50%': -5, '25%': 1, 'DSV': -12 };

const volumeTicks = [0, 250000, 500000, 750000, 1000000, 1250000, 1500000, 1750000, 2000000, 2250000, 2500000];
const volumeGridLines = [500000, 1000000, 1500000, 2000000, 2500000];
const decadeGridLines = [1890, 1900, 1910, 1920, 1930, 1940, 1950, 1960, 1970, 1980, 1990, 2000];
const yearTicks = Array.from({ length: 111 }, (_, i) => 1890 + i);

const legendItems = ['Historical', 'Median of Model Results', '80% Confidence Limit', 'Range of Model Results', 'Trigger Levels'];

const histData = historical.map(([year, v]) => ({ year, historical: v }));
const medianData = medianResults.map(([year, v]) => ({ year, median: v }));
const confData = confidence80.map(([year, lo, hi]) => ({ year, conf: [lo, hi] }));
const rangeData = modelRange.map(([year, lo, hi]) => ({ year, range: [lo, hi] }));

const YTick = (props: any) => {
  const { x, y, payload } = props;
  const v = payload.value;
  const major = v % 500000 === 0;
  return (
    <g>
      <line x1={x - (major ? 28 : 14)} x2={x} y1={y} y2={y} stroke="#4a4a4a" strokeWidth={major ? 2 : 1.6} />
      {major && (
        <text x={x - 43} y={y + 1} textAnchor="end" dominantBaseline="central" fontSize={23} fill="#333" fontFamily={FONT}>
          {v}
        </text>
      )}
    </g>
  );
};

const XTick = (props: any) => {
  const { x, y, payload } = props;
  const v = payload.value;
  const major = v % 10 === 0;
  const ty = y + 19;
  return (
    <g>
      <line x1={x} x2={x} y1={y} y2={y + (major ? 14 : 8)} stroke="#222" strokeWidth={major ? 2 : 1.5} />
      {major && (
        <text x={x} y={ty} transform={`rotate(-90 ${x} ${ty})`} textAnchor="end" dominantBaseline="central" fontSize={22} fill="#333" fontFamily={FONT}>
          {v}
        </text>
      )}
    </g>
  );
};

const makeTriggerLabel = (text: string) => (props: any) => {
  const vb = props.viewBox || {};
  const x = (vb.x ?? 200) - 3;
  const y = (vb.y ?? 0) + (triggerLabelShift[text] || 0);
  return (
    <text x={x} y={y} textAnchor="end" dominantBaseline="central" fontSize={22} fill="#a550d6" fontFamily={FONT}>
      {text}
    </text>
  );
};

export default function App() {
  return (
    <div style={{ position: 'absolute', left: 0, top: 0, width: 1512, height: 1119, background: '#fff', overflow: 'hidden' }}>
      <svg width={1512} height={1119} style={{ position: 'absolute', left: 0, top: 0 }}>
        <line x1={8.5} y1={4} x2={8.5} y2={1119} stroke="#000" strokeWidth={2} />
        <line x1={8} y1={4.5} x2={1512} y2={4.5} stroke="#000" strokeWidth={1.5} />
        <text x={763} y={52} textAnchor="middle" fontSize={42} fill="#111" fontFamily={FONT}>Combined Wivenhoe and Somerset Dams</text>
        <text x={763} y={86} textAnchor="middle" fontSize={30} fontWeight="bold" fill="#111" fontFamily={FONT}>Simulated Storage Volume</text>
        <text x={766} y={118} textAnchor="middle" fontSize={26.5} fill="#111" fontFamily={FONT}>Global Circulation Model Generation Method (GCM) - 8 Common Climate Models</text>
        <text x={857} y={1110} textAnchor="middle" fontSize={37} fill="#111" fontFamily={FONT}>Date</text>
        <text x={42} y={592} transform="rotate(-90 42 592)" textAnchor="middle" fontSize={37} fill="#111" fontFamily={FONT}>Storage Volume (ML)</text>
      </svg>
      <div style={{ position: 'absolute', left: 0, top: 0 }}>
        <ComposedChart width={1512} height={1119} margin={{ top: 191, right: 0, bottom: 66, left: 0 }}>
          <CartesianGrid horizontal={false} verticalValues={decadeGridLines} stroke="#dcdcdc" strokeWidth={3} />
          <CartesianGrid vertical={false} horizontalValues={volumeGridLines} stroke="#dcdcdc" strokeWidth={2} />
          <XAxis
            dataKey="year"
            type="number"
            domain={[1889.07, 2000.25]}
            allowDataOverflow
            ticks={yearTicks}
            interval={0}
            tick={(p: any) => <XTick {...p} />}
            tickLine={false}
            tickSize={0}
            tickMargin={0}
            axisLine={{ stroke: '#000', strokeWidth: 1.5 }}
            height={60}
          />
          <YAxis
            type="number"
            domain={[0, 2500000]}
            allowDataOverflow
            ticks={volumeTicks}
            interval={0}
            tick={(p: any) => <YTick {...p} />}
            tickLine={false}
            tickSize={0}
            tickMargin={0}
            axisLine={{ stroke: '#000', strokeWidth: 1.5 }}
            width={200}
          />
          <Area data={rangeData} dataKey="range" type="linear" stroke="none" fill="#cccccc" fillOpacity={1} isAnimationActive={false} dot={false} activeDot={false} />
          <Area data={confData} dataKey="conf" type="linear" stroke="none" fill="#999999" fillOpacity={1} isAnimationActive={false} dot={false} activeDot={false} />
          {triggerLevels.map((t) => (
            <ReferenceLine key={t.label} y={t.volume} stroke="#9a2ee0" strokeWidth={1.6} strokeDasharray="6 3 2 3" label={makeTriggerLabel(t.label)} />
          ))}
          <Line data={medianData} dataKey="median" type="linear" stroke="#ff0000" strokeWidth={1.4} dot={false} activeDot={false} isAnimationActive={false} />
          <Line data={histData} dataKey="historical" type="linear" stroke="#0000ff" strokeWidth={3} dot={false} activeDot={false} isAnimationActive={false} />
        </ComposedChart>
      </div>
      <svg width={1512} height={1119} style={{ position: 'absolute', left: 0, top: 0, pointerEvents: 'none' }}>
        <rect x={1185.5} y={191.5} width={321} height={187} fill="#fff" stroke="#222" strokeWidth={1.5} />
        <line x1={1197} x2={1239} y1={225} y2={225} stroke="#0000ff" strokeWidth={3} />
        <line x1={1197} x2={1239} y1={257} y2={257} stroke="#ff0000" strokeWidth={1.3} />
        <rect x={1194} y={281} width={48} height={17} fill="#999999" />
        <rect x={1194} y={313} width={48} height={17} fill="#cccccc" />
        <line x1={1197} x2={1240} y1={354} y2={354} stroke="#cc66ee" strokeWidth={2} strokeDasharray="3 4" />
        {legendItems.map((name, i) => (
          <text key={name} x={1250} y={225 + i * 32.2} dominantBaseline="central" fontSize={22} fill="#222" fontFamily={FONT}>
            {name}
          </text>
        ))}
      </svg>
    </div>
  );
}
